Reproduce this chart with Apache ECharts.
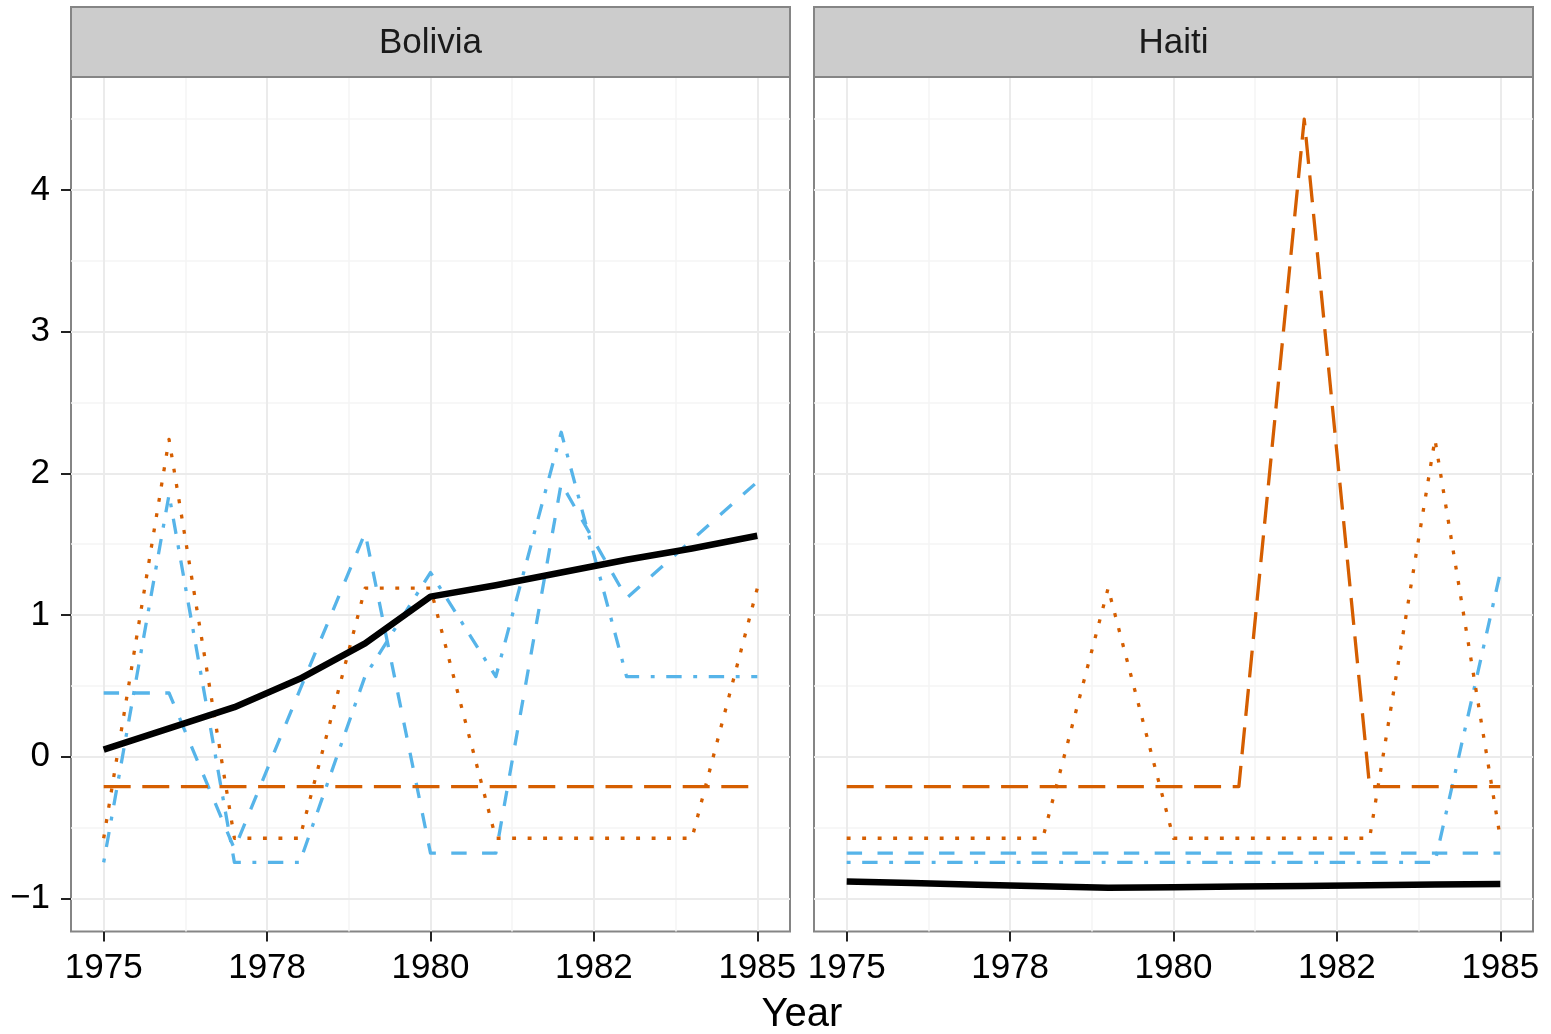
<!DOCTYPE html>
<html><head><meta charset="utf-8">
<script src="https://cdn.jsdelivr.net/npm/echarts@6/dist/echarts.min.js"></script>
<style>html,body{margin:0;padding:0;background:#fff}#c{width:1551px;height:1034px}</style>
</head><body><div id="c"></div>
<script>
// ---- data ----
const years = [1975, 1976, 1977, 1978, 1979, 1980, 1981, 1982, 1983, 1984, 1985];
const panels = ['Bolivia', 'Haiti'];
const xTickValues = [1975, 1977.5, 1980, 1982.5, 1985];
const xTickLabels = ['1975', '1978', '1980', '1982', '1985'];
const xMinorValues = [1976.25, 1978.75, 1981.25, 1983.75];
const yTickValues = [-1, 0, 1, 2, 3, 4];
const yTickLabels = ['\u22121', '0', '1', '2', '3', '4'];
const yMinorValues = [-0.5, 0.5, 1.5, 2.5, 3.5, 4.5];

const boliviaBlueDotDash = [-0.745, 1.85, -0.745, -0.745, 0.57, 1.30, 0.566, 2.29, 0.566, 0.566, 0.566];
const boliviaBlueDash    = [0.45, 0.45, -0.65, 0.47, 1.58, -0.68, -0.68, 1.93, 1.12, 1.53, 1.94];
const boliviaOrangeDot   = [-0.575, 2.24, -0.575, -0.575, 1.19, 1.19, -0.575, -0.575, -0.575, -0.575, 1.19];
const boliviaOrangeDash  = [-0.21, -0.21, -0.21, -0.21, -0.21, -0.21, -0.21, -0.21, -0.21, -0.21, -0.21];
const boliviaBlack       = [0.05, 0.20, 0.35, 0.55, 0.80, 1.13, 1.21, 1.30, 1.39, 1.47, 1.56];

const haitiBlueDotDash = [-0.745, -0.745, -0.745, -0.745, -0.745, -0.745, -0.745, -0.745, -0.745, -0.745, 1.30];
const haitiBlueDash    = [-0.68, -0.68, -0.68, -0.68, -0.68, -0.68, -0.68, -0.68, -0.68, -0.68, -0.68];
const haitiOrangeDot   = [-0.575, -0.575, -0.575, -0.575, 1.19, -0.575, -0.575, -0.575, -0.575, 2.24, -0.575];
const haitiOrangeDash  = [-0.21, -0.21, -0.21, -0.21, -0.21, -0.21, -0.21, 4.50, -0.21, -0.21, -0.21];
const haitiBlack       = [-0.880, -0.891, -0.903, -0.914, -0.925, -0.921, -0.916, -0.912, -0.907, -0.902, -0.897];

// ---- layout / style ----
const FONT = "'Liberation Sans', Arial, Helvetica, sans-serif";
const X_MIN = 1974.5, X_MAX = 1985.5, Y_MIN = -1.233, Y_MAX = 4.797;
const gridBoxes = [{left: 71, top: 77, width: 719, height: 854.5}, {left: 814, top: 77, width: 719, height: 854.5}];
const ORANGE = '#D55E00', BLUE = '#56B4E9';
const styles = [
  {color: BLUE, width: 3.3, type: [3.9, 11.6, 15.4, 11.6]},
  {color: BLUE, width: 3.3, type: [15.4, 15.4]},
  {color: ORANGE, width: 3.3, type: [3.9, 11.6]},
  {color: ORANGE, width: 3.3, type: [27, 11.6]},
  {color: '#000000', width: 6.5, type: 'solid'}
];
const panelData = [
  [boliviaBlueDotDash, boliviaBlueDash, boliviaOrangeDot, boliviaOrangeDash, boliviaBlack],
  [haitiBlueDotDash, haitiBlueDash, haitiOrangeDot, haitiOrangeDash, haitiBlack]
];

const grid = gridBoxes.map(b => Object.assign({show: true, borderColor: '#858585', borderWidth: 2, backgroundColor: 'transparent', containLabel: false}, b));

const xAxis = [], yAxis = [];
// major axes (index 0,1)
for (let i = 0; i < 2; i++) {
  xAxis.push({
    type: 'value', gridIndex: i, min: X_MIN, max: X_MAX, position: 'bottom', z: 1,
    axisLine: {show: false, onZero: false},
    axisTick: {show: true, customValues: xTickValues, length: 10, lineStyle: {color: '#222', width: 2}},
    axisLabel: {show: true, customValues: xTickValues, margin: 19, fontSize: 35, fontFamily: FONT, color: '#000',
      formatter: v => { const k = xTickValues.findIndex(t => Math.abs(t - v) < 1e-6); return k >= 0 ? xTickLabels[k] : ''; }},
    splitLine: {show: true, lineStyle: {color: '#EBEBEB', width: 2}}
  });
  yAxis.push({
    type: 'value', gridIndex: i, min: Y_MIN, max: Y_MAX, position: 'left', z: 1,
    axisLine: {show: false, onZero: false},
    axisTick: {show: i === 0, customValues: yTickValues, length: 10, lineStyle: {color: '#222', width: 2}},
    axisLabel: {show: i === 0, customValues: yTickValues, margin: 21, fontSize: 35, fontFamily: FONT, color: '#000',
      formatter: v => { const k = yTickValues.findIndex(t => Math.abs(t - v) < 1e-6); return k >= 0 ? yTickLabels[k] : ''; }},
    splitLine: {show: true, lineStyle: {color: '#EBEBEB', width: 2}}
  });
}
// minor grid axes (index 2,3)
for (let i = 0; i < 2; i++) {
  xAxis.push({
    type: 'value', gridIndex: i, min: X_MIN, max: X_MAX, position: 'bottom', z: 0,
    axisLine: {show: false, onZero: false},
    axisTick: {show: false, customValues: xMinorValues},
    axisLabel: {show: false, customValues: xMinorValues},
    splitLine: {show: true, lineStyle: {color: '#F5F5F5', width: 1.5}}
  });
  yAxis.push({
    type: 'value', gridIndex: i, min: Y_MIN, max: Y_MAX, position: 'left', z: 0,
    axisLine: {show: false, onZero: false},
    axisTick: {show: false, customValues: yMinorValues},
    axisLabel: {show: false, customValues: yMinorValues},
    splitLine: {show: true, lineStyle: {color: '#F5F5F5', width: 1.5}}
  });
}

const series = [];
panelData.forEach((arrs, p) => {
  arrs.forEach((vals, s) => {
    const st = styles[s];
    series.push({
      type: 'line', xAxisIndex: p, yAxisIndex: p, name: panels[p] + s,
      data: years.map((y, k) => [y, vals[k]]),
      showSymbol: false, symbol: 'none', silent: true, z: 3 + s,
      lineStyle: {color: st.color, width: st.width, type: st.type, cap: 'butt', join: 'round'}
    });
  });
});

const graphic = [];
gridBoxes.forEach((b, p) => {
  graphic.push({type: 'rect', z: 10, shape: {x: b.left, y: 7, width: b.width, height: b.top - 7},
    style: {fill: '#CCCCCC', stroke: '#858585', lineWidth: 2}});
  graphic.push({type: 'text', z: 11, x: b.left + b.width / 2, y: 43,
    style: {text: panels[p], fontSize: 35, fontFamily: FONT, fill: '#1a1a1a', align: 'center', verticalAlign: 'middle', textAlign: 'center', textVerticalAlign: 'middle'}});
});
graphic.push({type: 'text', z: 11, x: (gridBoxes[0].left + gridBoxes[1].left + gridBoxes[1].width) / 2, y: 1015,
  style: {text: 'Year', fontSize: 40, fontFamily: FONT, fill: '#000', align: 'center', verticalAlign: 'middle', textAlign: 'center', textVerticalAlign: 'middle'}});

const chart = echarts.init(document.getElementById('c'), null, {renderer: 'canvas', width: 1551, height: 1034});
chart.setOption({animation: false, backgroundColor: '#ffffff', grid, xAxis, yAxis, series, graphic});
</script></body></html>
